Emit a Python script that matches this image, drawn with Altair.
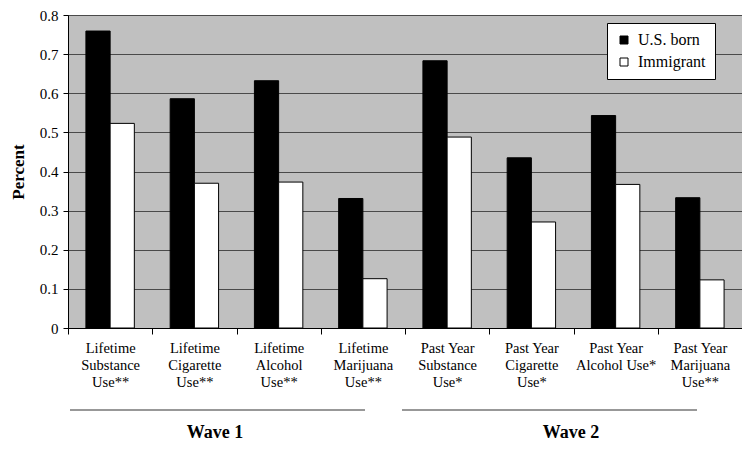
import altair as alt
import pandas as pd

categories = [
    "Lifetime|Substance|Use**", "Lifetime|Cigarette|Use**", "Lifetime|Alcohol|Use**",
    "Lifetime|Marijuana|Use**", "Past Year|Substance|Use*", "Past Year|Cigarette|Use*",
    "Past Year|Alcohol Use*", "Past Year|Marijuana|Use**",
]
groups = ["U.S. born", "Immigrant"]
us_born = [0.759, 0.586, 0.632, 0.331, 0.683, 0.435, 0.543, 0.333]
immigrant = [0.523, 0.370, 0.373, 0.126, 0.488, 0.271, 0.367, 0.123]
waves = ["Wave 1", "Wave 2"]

rows = []
for c, u, m in zip(categories, us_born, immigrant):
    rows.append({"cat": c, "group": groups[0], "value": u})
    rows.append({"cat": c, "group": groups[1], "value": m})
df = pd.DataFrame(rows)

FONT = "Liberation Serif"
W, H = 674, 313

bars = alt.Chart(df).mark_bar(stroke="black", strokeWidth=1).encode(
    x=alt.X("cat:N", sort=categories,
            scale=alt.Scale(paddingInner=0, paddingOuter=0),
            axis=alt.Axis(title=None, labelExpr="split(datum.label, '|')", labelAngle=0,
                          labelFont=FONT, labelFontSize=14.5, labelLineHeight=17,
                          labelColor="black", labelPadding=7, tickBand="extent",
                          tickColor="black", tickSize=6, domainColor="black",
                          labelBaseline="top")),
    xOffset=alt.XOffset("group:N", sort=groups,
                        scale=alt.Scale(paddingInner=0, paddingOuter=0.74)),
    y=alt.Y("value:Q", scale=alt.Scale(domain=[0, 0.8]),
            axis=alt.Axis(title="Percent", values=[0, 0.1, 0.2, 0.3, 0.4, 0.5, 0.6, 0.7, 0.8],
                          labelExpr="datum.value == 0 ? '0' : format(datum.value, '.1f')",
                          labelFont=FONT, labelFontSize=15, labelColor="black", labelPadding=5,
                          tickColor="black", tickSize=5, domainColor="black",
                          grid=True, gridColor="#4a4a4a", gridWidth=1,
                          titleFont=FONT, titleFontSize=17, titleFontWeight="bold",
                          titleColor="black", titlePadding=12)),
    fill=alt.Fill("group:N", sort=groups,
                  scale=alt.Scale(domain=groups, range=["black", "white"]),
                  legend=alt.Legend(title=None, orient="none", legendX=539, legendY=8,
                                    symbolType="square", symbolSize=64,
                                    symbolStrokeColor="black", symbolStrokeWidth=1,
                                    labelFont=FONT, labelFontSize=16, labelColor="black",
                                    labelOffset=6, rowPadding=6, padding=9,
                                    fillColor="white", strokeColor="black",
                                    cornerRadius=0)),
)

wdf = pd.DataFrame({"wave": waves})
line1 = alt.Chart(wdf).transform_filter("datum.wave == 'Wave 1'").mark_rule(
    color="#333333", strokeWidth=1.2).encode(
    x=alt.value(2), x2=alt.value(297), y=alt.value(395))
line2 = alt.Chart(wdf).transform_filter("datum.wave == 'Wave 2'").mark_rule(
    color="#333333", strokeWidth=1.2).encode(
    x=alt.value(334), x2=alt.value(629), y=alt.value(395))
text1 = alt.Chart(wdf).transform_filter("datum.wave == 'Wave 1'").mark_text(
    font=FONT, fontSize=18, fontWeight="bold", color="black", baseline="middle").encode(
    x=alt.value(147), y=alt.value(418), text="wave:N")
text2 = alt.Chart(wdf).transform_filter("datum.wave == 'Wave 2'").mark_text(
    font=FONT, fontSize=18, fontWeight="bold", color="black", baseline="middle").encode(
    x=alt.value(503), y=alt.value(418), text="wave:N")

chart = alt.layer(bars, line1, line2, text1, text2).properties(
    width=W, height=H,
    autosize=alt.AutoSizeParams(type="none"),
    padding={"left": 60, "top": 7, "right": 0, "bottom": 114},
    background="white",
).configure(font=FONT).configure_view(fill="#c0c0c0", stroke="#4a4a4a", strokeWidth=1)

chart.save("out.html", embed_options={"renderer": "svg", "actions": False})
